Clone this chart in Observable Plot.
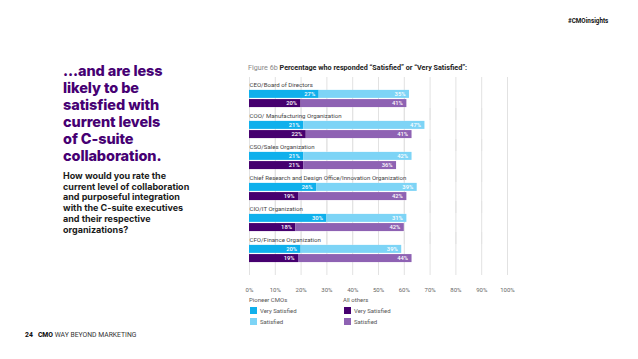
<!DOCTYPE html>
<html>
<head>
<meta charset="utf-8">
<script src="https://cdn.jsdelivr.net/npm/d3@7"></script>
<script src="https://cdn.jsdelivr.net/npm/@observablehq/plot@0.6"></script>
<style>
  html, body { margin: 0; padding: 0; background: #fff; }
  body { width: 638px; height: 359px; position: relative; overflow: hidden; font-family: Roboto, "Liberation Sans", sans-serif; }
  .abs { position: absolute; white-space: nowrap; }
  #heading { left: 63px; top: 61.5px; font-family: Inter, Roboto, sans-serif; font-weight: 800; font-size: 14.5px; line-height: 17px; color: #460073; letter-spacing: -0.1px; }
  #sub { left: 63px; top: 171px; font-family: Inter, Roboto, sans-serif; font-weight: 700; font-size: 9px; line-height: 10.7px; color: #1a1a1a; }
  #title { left: 248px; top: 63px; font-size: 7.2px; line-height: 10px; color: #222; }
  #title .fig { color: #888; }
  #title b { font-weight: 700; }
  #tag { left: 568px; top: 17px; font-size: 6.3px; font-weight: 700; color: #111; }
  #footer { left: 25px; top: 331px; font-size: 6.8px; color: #333; }
  #footer b { font-weight: 800; color: #111; }
  #chart { left: 240px; top: 73px; }
  .lg-title { font-size: 6px; color: #555; }
  .lg-item { font-size: 6px; color: #555; display: flex; align-items: center; }
  .sw { width: 7px; height: 7px; display: inline-block; margin-right: 3px; }
</style>
</head>
<body>
<div id="heading" class="abs">...and are less<br>likely to be<br>satisfied with<br>current levels<br>of C-suite<br>collaboration.</div>
<div id="sub" class="abs">How would you rate the<br>current level of collaboration<br>and purposeful integration<br>with the C-suite executives<br>and their respective<br>organizations?</div>
<div id="title" class="abs"><span class="fig">Figure 6b </span><b>Percentage who responded “Satisfied” or “Very Satisfied”:</b></div>
<div id="tag" class="abs">#CMOinsights</div>
<div id="footer" class="abs"><b>24</b>&nbsp;&nbsp;&nbsp;<b>CMO</b> WAY BEYOND MARKETING</div>
<div id="chart" class="abs"></div>
<div id="legend"></div>
<script>
// ---- Data ----
const categories = [
  "CEO/Board of Directors",
  "COO/ Manufacturing Organization",
  "CSO/Sales Organization",
  "Chief Research and Design Office/Innovation Organization",
  "CIO/IT Organization",
  "CFO/Finance Organization"
];
const pioneerVerySatisfied = [27, 21, 21, 26, 30, 20];
const pioneerSatisfied     = [35, 47, 42, 39, 31, 39];
const othersVerySatisfied  = [20, 22, 21, 19, 18, 19];
const othersSatisfied      = [41, 41, 36, 42, 42, 44];
const groups = ["Pioneer CMOs", "All others"];
const groupKeys = ["P", "O"];
const levels = ["Very Satisfied", "Satisfied"];
const seriesColors = {
  "P|Very Satisfied": "#0fb0ec",
  "P|Satisfied": "#7dd4f6",
  "O|Very Satisfied": "#46006f",
  "O|Satisfied": "#8e62b3"
};
const xTicks = [0, 10, 20, 30, 40, 50, 60, 70, 80, 90, 100];

// ---- Table built from arrays ----
const rows = [];
categories.forEach((cat, i) => {
  rows.push({cat, grp: "P", level: "Very Satisfied", value: pioneerVerySatisfied[i]});
  rows.push({cat, grp: "P", level: "Satisfied", value: pioneerSatisfied[i]});
  rows.push({cat, grp: "O", level: "Very Satisfied", value: othersVerySatisfied[i]});
  rows.push({cat, grp: "O", level: "Satisfied", value: othersSatisfied[i]});
});
rows.forEach(d => d.key = d.grp + "|" + d.level);

const keys = Object.keys(seriesColors);

const chart = Plot.plot({
  width: 287,
  height: 232,
  marginLeft: 9,
  marginRight: 20,
  marginTop: 4,
  marginBottom: 42,
  style: {fontFamily: "Roboto, sans-serif", background: "transparent", overflow: "visible"},
  facet: {data: rows, y: "cat"},
  fy: {domain: categories, axis: null, padding: 0, round: false},
  y: {domain: ["label", ...groupKeys], axis: null, paddingInner: 0.13, paddingOuter: 0.25, align: 0.8, round: false},
  x: {domain: [0, 100], ticks: xTicks, tickFormat: d => d + "%", tickSize: 0, tickPadding: 24, label: null, line: false},
  color: {domain: keys, range: keys.map(k => seriesColors[k])},
  marks: [
    Plot.ruleX(xTicks, {stroke: "#e2e2e2", strokeWidth: 1, insetBottom: -12}),
    Plot.barX(rows, Plot.stackX({x: "value", y: "grp", fill: "key", order: null})),
    Plot.text(rows, Plot.stackX2({
      x: "value", y: "grp", z: "grp", order: null,
      text: d => d.value + "%", textAnchor: "end", dx: -4,
      fill: "white", fontSize: 5.8, fontWeight: 500
    })),
    Plot.text(rows, {
      filter: d => d.grp === "P" && d.level === "Very Satisfied",
      y: () => "label", frameAnchor: "left", text: "cat",
      textAnchor: "start", fill: "#444", fontSize: 6.1
    })
  ]
});
chart.querySelectorAll("text").forEach(t => {
  if (/^\d+%$/.test(t.textContent) && !t.closest("[fill='white']") && t.getAttribute("fill") !== "white") {
    t.style.fontSize = "6px";
    t.setAttribute("fill", "#666");
  }
});
document.getElementById("chart").appendChild(chart);

// ---- Legend (HTML) ----
const legend = document.getElementById("legend");
groups.forEach((g, gi) => {
  const left = gi === 0 ? 249 : 343;
  const title = document.createElement("div");
  title.className = "abs lg-title";
  title.style.left = left + "px";
  title.style.top = "296px";
  title.textContent = g;
  legend.appendChild(title);
  levels.forEach((lv, li) => {
    const item = document.createElement("div");
    item.className = "abs lg-item";
    item.style.left = (left + 1) + "px";
    item.style.top = (307 + li * 11) + "px";
    const sw = document.createElement("span");
    sw.className = "sw";
    sw.style.background = seriesColors[groupKeys[gi] + "|" + lv];
    item.appendChild(sw);
    item.appendChild(document.createTextNode(lv));
    legend.appendChild(item);
  });
});
</script>
</body>
</html>
